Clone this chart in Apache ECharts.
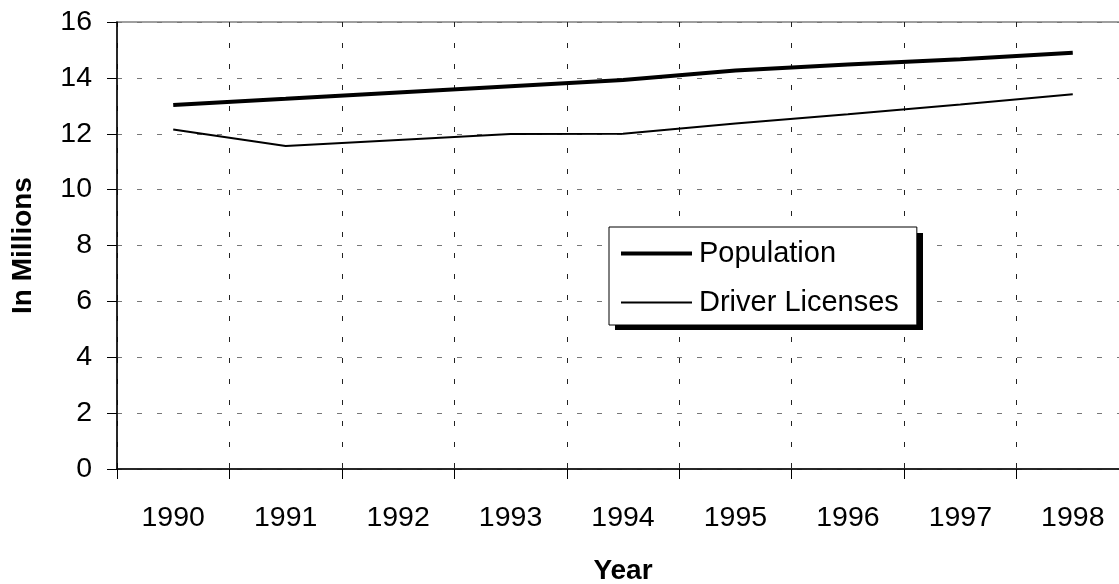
<!DOCTYPE html>
<html>
<head>
<meta charset="utf-8">
<script src="https://cdn.jsdelivr.net/npm/echarts@6/dist/echarts.min.js"></script>
<style>
  html, body { margin: 0; padding: 0; background: #fff; }
  #chart { width: 1119px; height: 584px; }
</style>
</head>
<body>
<div id="chart"></div>
<script>
const years = ['1990', '1991', '1992', '1993', '1994', '1995', '1996', '1997', '1998'];
const population = [13.03, 13.25, 13.48, 13.70, 13.92, 14.26, 14.48, 14.67, 14.90];
const driverLicenses = [12.15, 11.56, 11.78, 11.99, 12.00, 12.37, 12.70, 13.05, 13.41];
const yTicks = { min: 0, max: 16, interval: 2 };

const FONT = '"Liberation Sans", Arial, sans-serif';
const chart = echarts.init(document.getElementById('chart'), null, { renderer: 'canvas' });

chart.setOption({
  animation: false,
  backgroundColor: '#ffffff',
  textStyle: { fontFamily: FONT, color: '#000' },
  grid: {
    left: 117, right: -10, top: 22, bottom: 115,
    containLabel: false, outerBoundsMode: 'none',
    show: true, borderColor: '#808080', borderWidth: 1.5, backgroundColor: 'transparent'
  },
  graphic: [{
    type: 'rect', z: 3, silent: true,
    shape: { x: 615, y: 233, width: 308, height: 97 },
    style: { fill: '#000' }
  }],
  legend: {
    orient: 'vertical',
    left: 609, top: 227,
    padding: [12, 18, 8, 10],
    itemWidth: 71, itemHeight: 28, itemGap: 20,
    z: 5,
    backgroundColor: '#ffffff',
    borderColor: '#000', borderWidth: 1,
    itemStyle: { color: 'rgba(0,0,0,0)', borderColor: 'rgba(0,0,0,0)', borderWidth: 0, opacity: 0 },
    textStyle: { fontSize: 29, fontFamily: FONT, color: '#000', padding: [0, 0, 0, 2] },
    data: [
      { name: 'Population', lineStyle: { width: 4, color: '#000' } },
      { name: 'Driver Licenses', lineStyle: { width: 2, color: '#000' } }
    ]
  },
  xAxis: {
    type: 'category',
    data: years,
    boundaryGap: true,
    name: 'Year',
    nameLocation: 'middle',
    nameGap: 88,
    nameTextStyle: { fontSize: 28, fontWeight: 'bold', fontFamily: FONT, color: '#000' },
    axisLine: { lineStyle: { color: '#000', width: 1.5 } },
    axisTick: { show: true, length: 10, alignWithLabel: false, lineStyle: { color: '#000', width: 1 } },
    axisLabel: { fontSize: 28.5, color: '#000', margin: 35, fontFamily: FONT },
    splitLine: { show: true, lineStyle: { color: '#222', width: 1, type: [5, 16] } }
  },
  yAxis: {
    type: 'value',
    min: yTicks.min, max: yTicks.max, interval: yTicks.interval,
    name: 'In Millions',
    nameLocation: 'middle',
    nameGap: 80,
    nameTextStyle: { fontSize: 28, fontWeight: 'bold', fontFamily: FONT, color: '#000' },
    axisLine: { show: true, lineStyle: { color: '#000', width: 1.5 } },
    axisTick: { show: true, length: 10, lineStyle: { color: '#000', width: 1 } },
    axisLabel: { fontSize: 28.5, color: '#000', margin: 25, fontFamily: FONT },
    splitLine: { show: true, lineStyle: { color: '#777', width: 1, type: [5, 15] } }
  },
  series: [
    {
      name: 'Population', type: 'line', data: population,
      symbol: 'none', lineStyle: { color: '#000', width: 4 }, itemStyle: { color: '#000' }
    },
    {
      name: 'Driver Licenses', type: 'line', data: driverLicenses,
      symbol: 'none', lineStyle: { color: '#000', width: 2 }, itemStyle: { color: '#000' }
    }
  ]
});
</script>
</body>
</html>
